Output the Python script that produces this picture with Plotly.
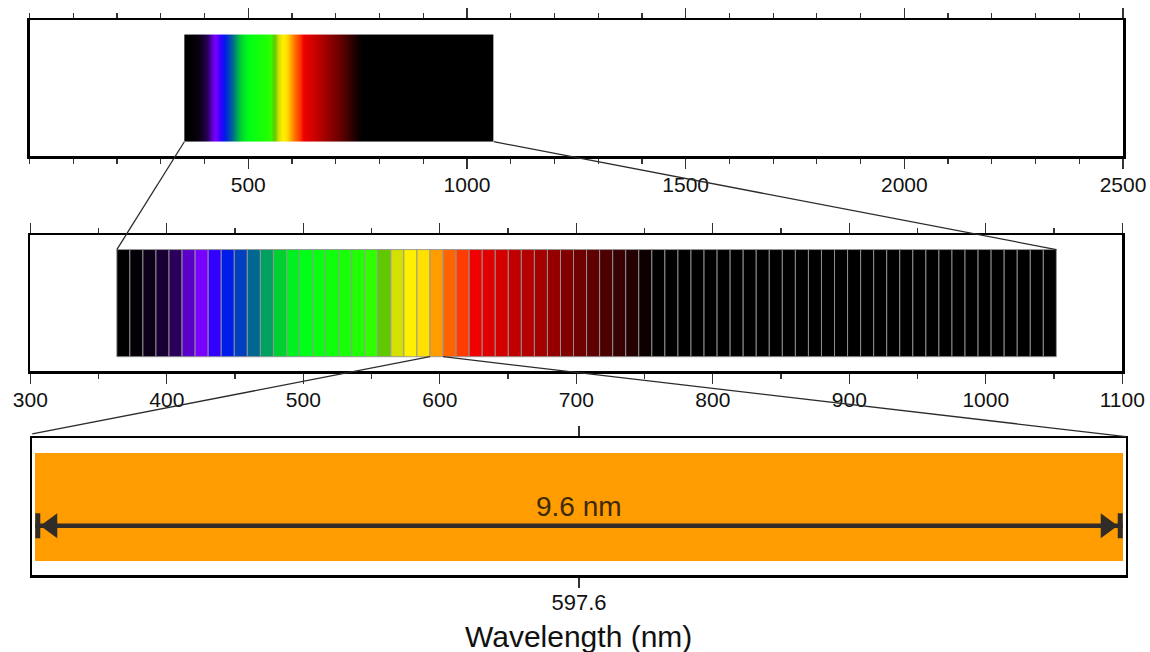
import plotly.graph_objects as go

# ---------------- data ----------------
# centre wavelength (nm) of each spectral bin shown in the middle panel
bin_centers = [368.16, 377.72, 387.28, 396.84, 406.40, 415.96, 425.52, 435.08, 444.64, 454.20,
               463.76, 473.32, 482.88, 492.44, 502.00, 511.56, 521.12, 530.68, 540.24, 549.80,
               559.36, 568.92, 578.48, 588.04, 597.60, 607.16, 616.72, 626.28, 635.84, 645.40,
               654.96, 664.52, 674.08, 683.64, 693.20, 702.76, 712.32, 721.88, 731.44, 741.00,
               750.56, 760.12, 769.68, 779.24, 788.80, 798.36, 807.92, 817.48, 827.04, 836.60,
               846.16, 855.72, 865.28, 874.84, 884.40, 893.96, 903.52, 913.08, 922.64, 932.20,
               941.76, 951.32, 960.88, 970.44, 980.00, 989.56, 999.12, 1008.68, 1018.24, 1027.80,
               1037.36, 1046.92]
bin_width = 9.56  # nm (labelled 9.6 nm)

bin_colors = ["#000000", "#050008", "#0c0018", "#180034", "#2a005c", "#5a00c8", "#7800ff", "#3200ff",
              "#001ce8", "#0040c0", "#006890", "#00a060", "#00d030", "#00f020", "#00ff18", "#08ff10",
              "#10ff0c", "#18ff08", "#20ff04", "#30ff00", "#60c800", "#d4e000", "#fff000", "#ffe000",
              "#ff9c00", "#ff6400", "#ff3c00", "#f00000", "#e00000", "#d40000", "#c00000", "#b40000",
              "#a40000", "#940000", "#820000", "#700000", "#600000", "#4c0000", "#380000", "#240000",
              "#0c0000"] + ["#000000"] * 31

highlight_center = 597.6
highlight_label = "9.6 nm"

top_ticks = [500, 1000, 1500, 2000, 2500]
mid_ticks = [300, 400, 500, 600, 700, 800, 900, 1000, 1100]
axis_title = "Wavelength (nm)"

# ---------------- layout constants ----------------
W, H = 1150, 652
BAND_LO, BAND_HI = 0.105, 0.893
FONT = "Liberation Sans, Arial, sans-serif"
LINE_C = "#000000"
CONN_C = "#2b2b2b"

top_range = [0, 2500]
mid_range = [300, 1100]
hi_idx = min(range(len(bin_centers)), key=lambda i: abs(bin_centers[i] - highlight_center))
hi_lo = bin_centers[hi_idx] - bin_width / 2
hi_hi = bin_centers[hi_idx] + bin_width / 2
pad = 0.026
bot_range = [hi_lo - pad, hi_hi + pad]

top_xdom = [29.6 / W, 1123.0 / W]
mid_xdom = [30.3 / W, 1122.3 / W]
bot_xdom = [32.3 / W, 1125.7 / W]
top_ydom = [1 - 156 / H, 1 - 20 / H]
mid_ydom = [1 - 371 / H, 1 - 235 / H]
bot_ydom = [1 - 575 / H, 1 - 438 / H]


def px(v, rng, dom):
    return dom[0] + (v - rng[0]) / (rng[1] - rng[0]) * (dom[1] - dom[0])


def py(v, dom):
    return dom[0] + v * (dom[1] - dom[0])


fig = go.Figure()

# ---- top panel: continuous spectrum (smoothed heatmap) ----
n = len(bin_centers)
hx = [bin_centers[0] - bin_width] + bin_centers + [bin_centers[-1] + bin_width]
hcols = [bin_colors[0]] + bin_colors + [bin_colors[-1]]
zrow = list(range(len(hx)))
cscale = [[i / (len(hcols) - 1), c] for i, c in enumerate(hcols)]
fig.add_trace(go.Heatmap(
    x=hx, y=[BAND_LO, (BAND_LO + BAND_HI) / 2, BAND_HI], z=[zrow, zrow], colorscale=cscale,
    zsmooth="best", showscale=False, hoverinfo="skip", xaxis="x", yaxis="y"))
top_lo = bin_centers[0] - 1.5 * bin_width
top_hi = bin_centers[-1] + 1.5 * bin_width

# ---- middle panel: discrete bins ----
fig.add_trace(go.Bar(
    x=bin_centers, y=[BAND_HI - BAND_LO] * n, base=BAND_LO, width=bin_width,
    marker=dict(color=bin_colors, line=dict(color="rgba(150,150,150,0.9)", width=1)),
    hoverinfo="skip", xaxis="x2", yaxis="y2"))

# ---- bottom panel: single highlighted bin ----
fig.add_trace(go.Bar(
    x=[bin_centers[hi_idx]], y=[BAND_HI - BAND_LO], base=BAND_LO, width=bin_width,
    marker=dict(color=bin_colors[hi_idx], line=dict(width=0)),
    hoverinfo="skip", xaxis="x3", yaxis="y3"))

common_x = dict(showline=True, linecolor=LINE_C, linewidth=2.5, mirror="ticks", ticks="outside",
                tickcolor="#333333", tickwidth=1.3, ticklen=10, showgrid=False, zeroline=False,
                tickfont=dict(family=FONT, size=21, color="#111111"), fixedrange=True,
                automargin=False, ticklabelstandoff=-2)
common_y = dict(range=[0, 1], showline=True, linecolor=LINE_C, linewidth=2.5, mirror=True,
                showticklabels=False, ticks="", showgrid=False, zeroline=False, fixedrange=True,
                automargin=False)

fig.update_layout(
    width=W, height=H, margin=dict(l=0, r=0, t=0, b=0, autoexpand=False),
    paper_bgcolor="white", plot_bgcolor="white", showlegend=False, bargap=0,
    xaxis=dict(common_x, domain=top_xdom, range=top_range, anchor="y", tickmode="array",
               tickvals=top_ticks, ticktext=[str(t) for t in top_ticks],
               minor=dict(dtick=100, tick0=0, ticklen=5, ticks="outside", tickcolor="#333333",
                          tickwidth=1.2, showgrid=False)),
    yaxis=dict(common_y, domain=top_ydom, anchor="x"),
    xaxis2=dict(common_x, domain=mid_xdom, range=mid_range, anchor="y2", tickmode="array",
                tickvals=mid_ticks, ticktext=[str(t) for t in mid_ticks],
                minor=dict(dtick=50, tick0=0, ticklen=5, ticks="outside", tickcolor="#333333",
                           tickwidth=1.2, showgrid=False)),
    yaxis2=dict(common_y, domain=mid_ydom, anchor="x2"),
    xaxis3=dict(common_x, domain=bot_xdom, range=bot_range, anchor="y3", tickmode="array",
                tickvals=[highlight_center], ticktext=[f"{highlight_center:.1f}"],
                tickfont=dict(family=FONT, size=22, color="#111111"), ticklabelstandoff=-4),
    yaxis3=dict(common_y, domain=bot_ydom, anchor="x3"),
)

shapes = []
# connectors top -> middle
shapes.append(dict(type="line", xref="paper", yref="paper",
                   x0=px(top_lo, top_range, top_xdom), y0=py(BAND_LO, top_ydom),
                   x1=px(bin_centers[0] - bin_width / 2, mid_range, mid_xdom), y1=py(BAND_HI, mid_ydom),
                   line=dict(color=CONN_C, width=1.3)))
shapes.append(dict(type="line", xref="paper", yref="paper",
                   x0=px(top_hi, top_range, top_xdom), y0=py(BAND_LO, top_ydom),
                   x1=px(bin_centers[-1] + bin_width / 2, mid_range, mid_xdom), y1=py(BAND_HI, mid_ydom),
                   line=dict(color=CONN_C, width=1.3)))
# connectors middle -> bottom
shapes.append(dict(type="line", xref="paper", yref="paper",
                   x0=px(hi_lo, mid_range, mid_xdom), y0=py(BAND_LO, mid_ydom),
                   x1=bot_xdom[0], y1=py(1.03, bot_ydom),
                   line=dict(color=CONN_C, width=1.3)))
shapes.append(dict(type="line", xref="paper", yref="paper",
                   x0=px(hi_hi, mid_range, mid_xdom), y0=py(BAND_LO, mid_ydom),
                   x1=bot_xdom[1], y1=py(1.01, bot_ydom),
                   line=dict(color=CONN_C, width=1.3)))

# double-headed dimension arrow in the bottom panel
ARROW_Y = 0.36
ARROW_C = "#312c28"
shapes.append(dict(type="line", xref="x3", yref="y3", x0=hi_lo, x1=hi_hi, y0=ARROW_Y, y1=ARROW_Y,
                   line=dict(color=ARROW_C, width=4.5)))
for anchor, sgn in ((hi_lo, 1), (hi_hi, -1)):
    shapes.append(dict(type="path", xref="x3", yref="y3", xsizemode="pixel", ysizemode="pixel",
                       xanchor=anchor, yanchor=ARROW_Y,
                       path=f"M0,-12.5 L{5*sgn},-12.5 L{5*sgn},12.5 L0,12.5 Z",
                       fillcolor=ARROW_C, line=dict(width=0)))
    shapes.append(dict(type="path", xref="x3", yref="y3", xsizemode="pixel", ysizemode="pixel",
                       xanchor=anchor, yanchor=ARROW_Y,
                       path=f"M{5*sgn},0 L{22*sgn},12.5 L{22*sgn},-12.5 Z",
                       fillcolor=ARROW_C, line=dict(width=0)))
fig.update_layout(shapes=shapes)

fig.add_annotation(x=highlight_center, y=0.50, xref="x3", yref="y3", text=highlight_label,
                   showarrow=False, xanchor="center", yanchor="middle",
                   font=dict(family=FONT, size=28, color="#3d2a0a"))
fig.add_annotation(x=578 / W, y=1 - 636 / H, xref="paper", yref="paper", text=axis_title,
                   showarrow=False, xanchor="center", yanchor="middle",
                   font=dict(family=FONT, size=30, color="#111111"))

fig.write_html("out.html", config={"displayModeBar": False, "staticPlot": True},
               post_script="document.body.style.margin='0';document.body.style.padding='0';"
                           "document.body.style.overflow='hidden';")
